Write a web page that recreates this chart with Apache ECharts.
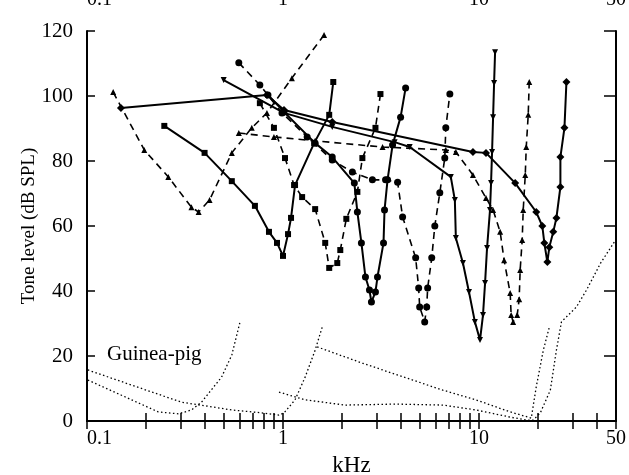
<!DOCTYPE html>
<html>
<head>
<meta charset="utf-8">
<title>Tuning curves</title>
<script src="https://cdn.jsdelivr.net/npm/echarts@6/dist/echarts.min.js"></script>
<style>
    html, body { margin: 0; padding: 0; background: #fff; }
    #chart { width: 629px; height: 475px; }
</style>
</head>
<body>
<div id="chart"></div>
<script type="text/javascript">
    // tick positions on the kHz axis
    var tickValues = [0.1, 1, 10, 50];
    var tickLabels = ['0.1', '1', '10', '50'];
    var minorTicks = [0.1, 0.2, 0.3, 0.4, 0.5, 0.6, 0.7, 0.8, 0.9,
        1, 2, 3, 4, 5, 6, 7, 8, 9, 10, 20, 30, 40, 50];
    var levelTicks = [0, 20, 40, 60, 80, 100, 120];

    // tuning curves (kHz, dB SPL)
    var aKhz = [0.136, 0.196, 0.260, 0.341, 0.371, 0.422, 0.548, 0.693, 0.828, 1.11, 1.62];
    var aDb = [101.2, 83.4, 75.1, 65.8, 64.3, 68.0, 82.5, 90.2, 94.8, 105.5, 118.8];

    var bKhz = [0.248, 0.398, 0.548, 0.719, 0.848, 0.932, 1.0, 1.061, 1.099, 1.152, 1.442, 1.721, 1.805];
    var bDb = [90.8, 82.5, 73.8, 66.2, 58.2, 54.8, 50.8, 57.5, 62.5, 72.6, 85.5, 94.2, 104.3];

    var cKhz = [0.762, 0.899, 1.024, 1.139, 1.252, 1.459, 1.642, 1.721, 1.892, 1.960, 2.104, 2.396, 2.541, 2.963, 3.142];
    var cDb = [97.8, 90.2, 80.9, 72.6, 68.9, 65.2, 54.8, 47.1, 48.6, 52.6, 62.2, 70.5, 80.9, 90.2, 100.6];

    var dKhz = [0.838, 1.012, 1.459, 1.783, 2.312, 2.396, 2.512, 2.634, 2.761, 2.826, 2.963, 3.034, 3.257, 3.296, 3.415, 3.622, 3.981, 4.223];
    var dDb = [100.3, 95.1, 85.5, 81.2, 73.2, 64.3, 54.8, 44.3, 40.3, 36.6, 39.7, 44.3, 54.8, 64.9, 74.2, 84.9, 93.5, 102.5];

    var eKhz = [0.595, 0.762, 0.988, 1.328, 1.783, 2.259, 2.858, 3.336, 3.843, 4.076, 4.752, 4.923, 4.98, 5.284, 5.41, 5.47, 5.74, 5.95, 6.31, 6.69, 6.77, 7.10];
    var eDb = [110.2, 103.4, 94.8, 87.4, 80.3, 76.6, 74.2, 74.2, 73.5, 62.8, 50.2, 40.9, 35.1, 30.5, 35.1, 40.9, 50.2, 60.0, 70.2, 80.9, 90.2, 100.6];

    var fKhz = [0.498, 1.012, 1.783, 3.71, 4.43, 7.18, 7.53, 7.62, 8.28, 8.89, 9.53, 10.12, 10.48, 10.74, 10.99, 11.38, 11.52, 11.66, 11.80, 11.94, 12.08];
    var fDb = [104.9, 94.8, 90.5, 85.8, 84.3, 75.1, 68.0, 56.3, 48.6, 39.7, 30.5, 24.9, 32.6, 42.5, 53.2, 64.9, 73.2, 82.8, 93.5, 104.0, 113.5];

    var gKhz = [0.595, 0.899, 1.459, 3.22, 6.77, 7.62, 9.31, 10.86, 11.80, 12.82, 13.43, 14.42, 14.59, 14.93, 15.66, 16.03, 16.22, 16.61, 16.81, 17.22, 17.42, 17.83, 18.04];
    var gDb = [88.6, 87.4, 86.2, 84.3, 83.4, 82.8, 75.7, 68.6, 64.9, 58.2, 49.5, 39.4, 32.6, 30.5, 32.6, 37.5, 46.5, 55.7, 64.9, 75.7, 84.3, 94.2, 104.3];

    var hKhz = [0.149, 0.828, 1.012, 1.783, 9.31, 10.86, 15.30, 19.59, 21.04, 21.54, 22.32, 22.85, 23.93, 24.83, 26.02, 26.02, 27.29, 27.93];
    var hDb = [96.3, 100.3, 95.7, 92.0, 82.8, 82.5, 73.2, 64.3, 60.0, 54.8, 48.9, 53.5, 58.2, 62.5, 72.0, 81.2, 90.2, 104.3];

    // guinea-pig thresholds (dotted)
    var pKhz = [0.101, 0.149, 0.231, 0.293, 0.341, 0.384, 0.486, 0.548, 0.602];
    var pDb = [12.6, 8.0, 2.8, 2.2, 3.4, 5.8, 13.5, 20.3, 30.2];

    var qKhz = [0.101, 0.168, 0.303, 0.548, 0.780, 0.954, 1.012, 1.152, 1.297, 1.459, 1.585];
    var qDb = [15.7, 11.1, 5.8, 3.4, 2.5, 1.8, 2.5, 6.5, 13.5, 21.8, 28.9];

    var rKhz = [0.954, 1.112, 1.297, 2.08, 3.75, 6.54, 9.65, 14.42, 17.42, 18.92, 20.55, 23.12, 24.83, 26.34, 31.43, 35.37, 41.74, 49.8];
    var rDb = [8.9, 7.7, 6.5, 4.9, 5.2, 4.9, 3.4, 1.2, 0.3, 0.3, 2.5, 9.5, 21.8, 30.5, 35.1, 40.3, 48.6, 55.7];

    var sKhz = [1.494, 2.541, 4.586, 6.54, 9.65, 14.42, 18.48, 19.59, 21.29, 22.85];
    var sDb = [22.8, 17.8, 12.6, 9.5, 6.5, 2.8, 0.9, 10.5, 21.8, 28.9];

    var FONT = '"Liberation Serif", "DejaVu Serif", serif';

    function pairs(xs, ys) {
        return xs.map(function (x, i) { return [x, ys[i]]; });
    }

    function tuning(name, xs, ys, symbol, size, dashed, rotate) {
        return {
            name: name,
            type: 'line',
            data: pairs(xs, ys),
            symbol: symbol,
            symbolSize: size,
            symbolRotate: rotate || 0,
            showSymbol: true,
            lineStyle: { color: '#000', width: dashed ? 1.6 : 2, type: dashed ? [7, 5] : 'solid' },
            itemStyle: { color: '#000' },
            z: 3
        };
    }

    function dotted(name, xs, ys) {
        return {
            name: name,
            type: 'line',
            data: pairs(xs, ys),
            symbol: 'none',
            lineStyle: { color: '#000', width: 1.3, type: [1.5, 2.5] },
            z: 2
        };
    }

    function khzLabel(v) {
        for (var i = 0; i < tickValues.length; i++) {
            if (Math.abs(Math.log10(tickValues[i]) - Math.log10(v)) < 1e-6) return tickLabels[i];
        }
        return '';
    }

    var axisLine = { show: true, lineStyle: { color: '#000', width: 2 } };

    var myChart = echarts.init(document.getElementById('chart'), null, { renderer: 'canvas' });
    var option = {
        animation: false,
        backgroundColor: '#fff',
        grid: { left: 87, right: 13, top: 31, bottom: 54, containLabel: false, outerBoundsMode: 'none' },
        xAxis: [{
            type: 'log',
            logBase: 10,
            min: 0.1,
            max: 50,
            position: 'bottom',
            axisLine: axisLine,
            axisTick: { show: true, inside: true, length: 8, customValues: minorTicks, lineStyle: { color: '#000', width: 1.5 } },
            axisLabel: {
                customValues: tickValues, formatter: khzLabel, margin: 8,
                color: '#000', fontFamily: FONT, fontSize: 20, alignMinLabel: 'left'
            },
            splitLine: { show: false },
            name: 'kHz',
            nameLocation: 'middle',
            nameGap: 33,
            nameMoveOverlap: false,
            nameTextStyle: { color: '#000', fontFamily: FONT, fontSize: 23 }
        }, {
            type: 'log',
            logBase: 10,
            min: 0.1,
            max: 50,
            position: 'top',
            axisLine: axisLine,
            axisTick: { show: true, inside: true, length: 8, customValues: minorTicks, lineStyle: { color: '#000', width: 1.5 } },
            axisLabel: {
                customValues: tickValues, formatter: khzLabel, margin: 21,
                color: '#000', fontFamily: FONT, fontSize: 20, alignMinLabel: 'left'
            },
            splitLine: { show: false }
        }],
        yAxis: [{
            type: 'value',
            min: 0,
            max: 120,
            interval: 20,
            position: 'left',
            axisLine: axisLine,
            axisTick: { show: true, inside: true, length: 8, lineStyle: { color: '#000', width: 1.5 } },
            axisLabel: { margin: 14, color: '#000', fontFamily: FONT, fontSize: 21 },
            splitLine: { show: false },
            name: 'Tone level (dB SPL)',
            nameLocation: 'middle',
            nameGap: 48,
            nameMoveOverlap: false,
            nameTextStyle: { color: '#000', fontFamily: FONT, fontSize: 19 }
        }, {
            type: 'value',
            min: 0,
            max: 120,
            interval: 20,
            position: 'right',
            axisLine: axisLine,
            axisTick: { show: true, inside: true, length: 12, lineStyle: { color: '#000', width: 1.5 } },
            axisLabel: { show: false },
            splitLine: { show: false }
        }],
        graphic: [{
            type: 'text',
            left: 107,
            top: 344,
            style: { text: 'Guinea-pig', fill: '#000', font: '21px ' + FONT }
        }],
        series: [
            tuning('A', aKhz, aDb, 'triangle', 6, true),
            tuning('B', bKhz, bDb, 'rect', 6, false),
            tuning('C', cKhz, cDb, 'rect', 6, true),
            tuning('D', dKhz, dDb, 'circle', 7, false),
            tuning('E', eKhz, eDb, 'circle', 7, true),
            tuning('F', fKhz, fDb, 'triangle', 6, false, 180),
            tuning('G', gKhz, gDb, 'triangle', 6, true),
            tuning('H', hKhz, hDb, 'diamond', 8, false),
            dotted('P', pKhz, pDb),
            dotted('Q', qKhz, qDb),
            dotted('R', rKhz, rDb),
            dotted('S', sKhz, sDb)
        ]
    };
    myChart.setOption(option);
</script>
</body>
</html>
